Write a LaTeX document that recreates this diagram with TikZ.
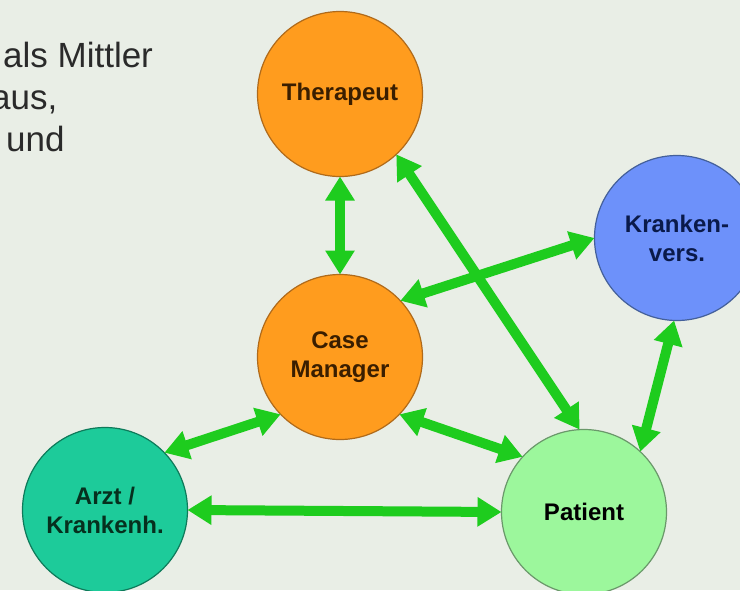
\documentclass[tikz,border=0pt]{standalone}
\usepackage{fontspec}
\setmainfont{Liberation Sans}
\usetikzlibrary{arrows.meta}
\definecolor{bgc}{HTML}{E9EEE6}
\definecolor{orangefill}{HTML}{FF9C1E}
\definecolor{orangeline}{HTML}{B06A1A}
\definecolor{bluefill}{HTML}{6D91FA}
\definecolor{blueline}{HTML}{44609A}
\definecolor{tealfill}{HTML}{1DCB9A}
\definecolor{tealline}{HTML}{0E7A5A}
\definecolor{palefill}{HTML}{9CF79C}
\definecolor{paleline}{HTML}{6A986A}
\definecolor{linkgreen}{HTML}{1ECC1E}
\definecolor{slidetext}{HTML}{2A2A2A}
\tikzstyle{person} = [circle, minimum size=165pt, inner sep=0pt, outer sep=0pt, line width=1.2pt, align=center, font=\bfseries\fontsize{24}{29}\selectfont]
\tikzstyle{link} = [draw=linkgreen, line width=10pt, {Triangle[length=24pt,width=28pt]}-{Triangle[length=24pt,width=28pt]}]
\tikzstyle{slideline} = [anchor=base west, inner sep=0pt, text=slidetext, font=\fontsize{35}{40}\selectfont]

\begin{document}
\begin{tikzpicture}[x=1pt, y=-1pt]
	\useasboundingbox (0,0) rectangle (740,590);
	\clip (0,0) rectangle (740,590);
	\fill[bgc] (0,0) rectangle (740,590);
	% text of the slide, cut at the left
	\node[slideline] (t1) at (3,67) {als Mittler};
	\node[slideline] (t2) at (-9,109) {aus,};
	\node[slideline] (t3) at (6,151) {und};
	% actors
	\node[person, fill=orangefill, draw=orangeline, text={rgb,255:red,58;green,30;blue,0}] (thr) at (340,94) {Therapeut};
	\node[person, fill=orangefill, draw=orangeline, text={rgb,255:red,58;green,30;blue,0}] (cm) at (340,357) {Case\\Manager};
	\node[person, fill=bluefill, draw=blueline, text={rgb,255:red,10;green,26;blue,74}] (kv) at (677,238) {Kranken-\\vers.};
	\node[person, fill=tealfill, draw=tealline, text={rgb,255:red,6;green,48;blue,30}] (arzt) at (105,510) {Arzt /\\Krankenh.};
	\node[person, fill=palefill, draw=paleline, text=black] (pat) at (584,512) {Patient};
	% connections
	\draw[link] (thr.south) -- (cm.north);
	\draw[link] (cm.43) -- (kv.180);
	\draw[link] (thr.-47) -- (pat.93);
	\draw[link] (cm.224) -- (arzt.44);
	\draw[link] (cm.316) -- (pat.138);
	\draw[link] (arzt.east) -- (pat.west);
	\draw[link] (kv.268) -- (pat.47);
\end{tikzpicture}
\end{document}
